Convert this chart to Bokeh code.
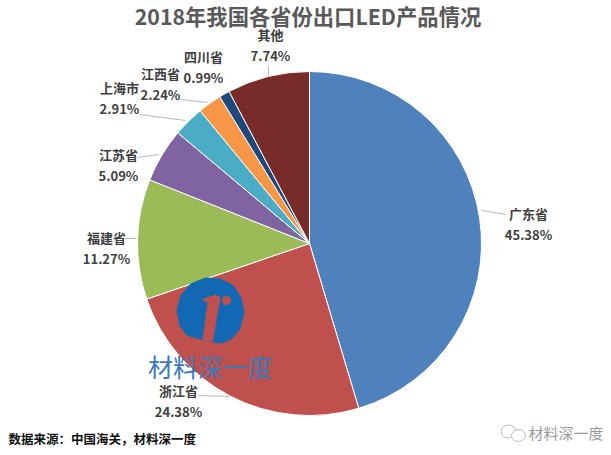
import math
from bokeh.plotting import figure
from bokeh.models import ColumnDataSource, Range1d
from bokeh.core.properties import value
from bokeh.embed import file_html
from bokeh.resources import INLINE

categories = ["广东省", "浙江省", "福建省", "江苏省", "上海市", "江西省", "四川省", "其他"]
shares = [45.38, 24.38, 11.27, 5.09, 2.91, 2.24, 0.99, 7.74]
colors = ["#4F81BD", "#C0504D", "#9BBB59", "#8064A2", "#4BACC6", "#F79646", "#1F497D", "#772C2A"]
title = "2018年我国各省份出口LED产品情况"
source_note = "数据来源：中国海关，材料深一度"
watermark = "材料深一度"
credit = "材料深一度"

H = 455
FONT = "Noto Sans CJK SC"

def Y(py):
    return H - py

label_xy = [(528, 213), (178, 390), (106, 237), (118, 154), (119, 87), (160, 73), (203, 56), (270, 34)]
leaders = [
    [(481, 210), (505, 214)],
    [(198, 395), (229, 396)],
    [(125, 238), (136, 238)],
    [(137, 157), (158, 154)],
    [(139, 114), (185, 120)],
    [(180, 99), (207, 102)],
    [(268, 65), (268, 75)],
]

p = figure(width=603, height=447, output_backend="svg", toolbar_location=None,
           x_range=Range1d(0, 603), y_range=Range1d(Y(447), Y(0)),
           min_border=0, outline_line_color=None, background_fill_color="white")
p.axis.visible = False
p.grid.visible = False

starts, ends = [], []
cum = 0.0
total = sum(shares)
for s in shares:
    starts.append(math.pi / 2 - 2 * math.pi * cum / total)
    cum += s
    ends.append(math.pi / 2 - 2 * math.pi * cum / total)

src = ColumnDataSource(dict(x=[309] * 8, y=[Y(243)] * 8, s=starts, e=ends, c=colors))
p.wedge(x="x", y="y", radius=172, start_angle="s", end_angle="e", direction="clock",
        fill_color="c", line_color="white", line_width=1, source=src)

for seg in leaders:
    p.line([a for a, _ in seg], [Y(b) for _, b in seg], line_color="#A6A6A6", line_width=0.8)

# logo
logo = [(186, 335), (179, 325), (176, 310), (180, 295), (190, 283), (205, 277), (220, 278),
        (233, 285), (241, 297), (244, 312), (240, 328), (232, 338), (222, 343), (212, 342),
        (200, 339)]
p.patch([a for a, _ in logo], [Y(b) for _, b in logo], fill_color="#1368B3", line_color=None)
one = [(215, 294), (201, 299), (207, 302), (202, 339), (212, 342), (220, 297)]
p.patch([a for a, _ in one], [Y(b) for _, b in one], fill_color="#C0504D", line_color=None)
p.circle([226], [Y(300)], radius=4.5, fill_color="#C0504D", line_color=None)

p.text([307.5], [Y(15)], text=[title], text_font=value(FONT), text_font_style="bold",
       text_font_size="21.3px", text_color="#595959", text_align="center", text_baseline="middle")

for name, sh, (x, y) in zip(categories, shares, label_xy):
    p.text([x], [Y(y)], text=[name], text_font=value(FONT), text_font_style="bold",
           text_font_size="13px", text_color="#404040", text_align="center", text_baseline="middle")
    p.text([x], [Y(y + 21)], text=[f"{sh:.2f}%"], text_font=value(FONT), text_font_style="bold",
           text_font_size="13px", text_color="#404040", text_align="center", text_baseline="middle")

p.text([210], [Y(365)], text=[watermark], text_font=value(FONT), text_font_size="25px",
       text_color="#3A78B8", text_align="center", text_baseline="middle")
p.text([8], [Y(437.5)], text=[source_note], text_font=value(FONT), text_font_style="bold",
       text_font_size="12.5px", text_color="#111111", text_align="left", text_baseline="middle")
p.text([603], [Y(432)], text=[credit], text_font=value(FONT), text_font_size="15px",
       text_color="#9A9A9A", text_align="right", text_baseline="middle")

# WeChat mark
p.ellipse([508], [Y(431)], width=15, height=13, fill_color=None, line_color="#BDBDBD", line_width=1)
p.ellipse([518], [Y(435)], width=14, height=12, fill_color="white", line_color="#BDBDBD", line_width=1)

open("out.html", "w").write(file_html(p, INLINE))
